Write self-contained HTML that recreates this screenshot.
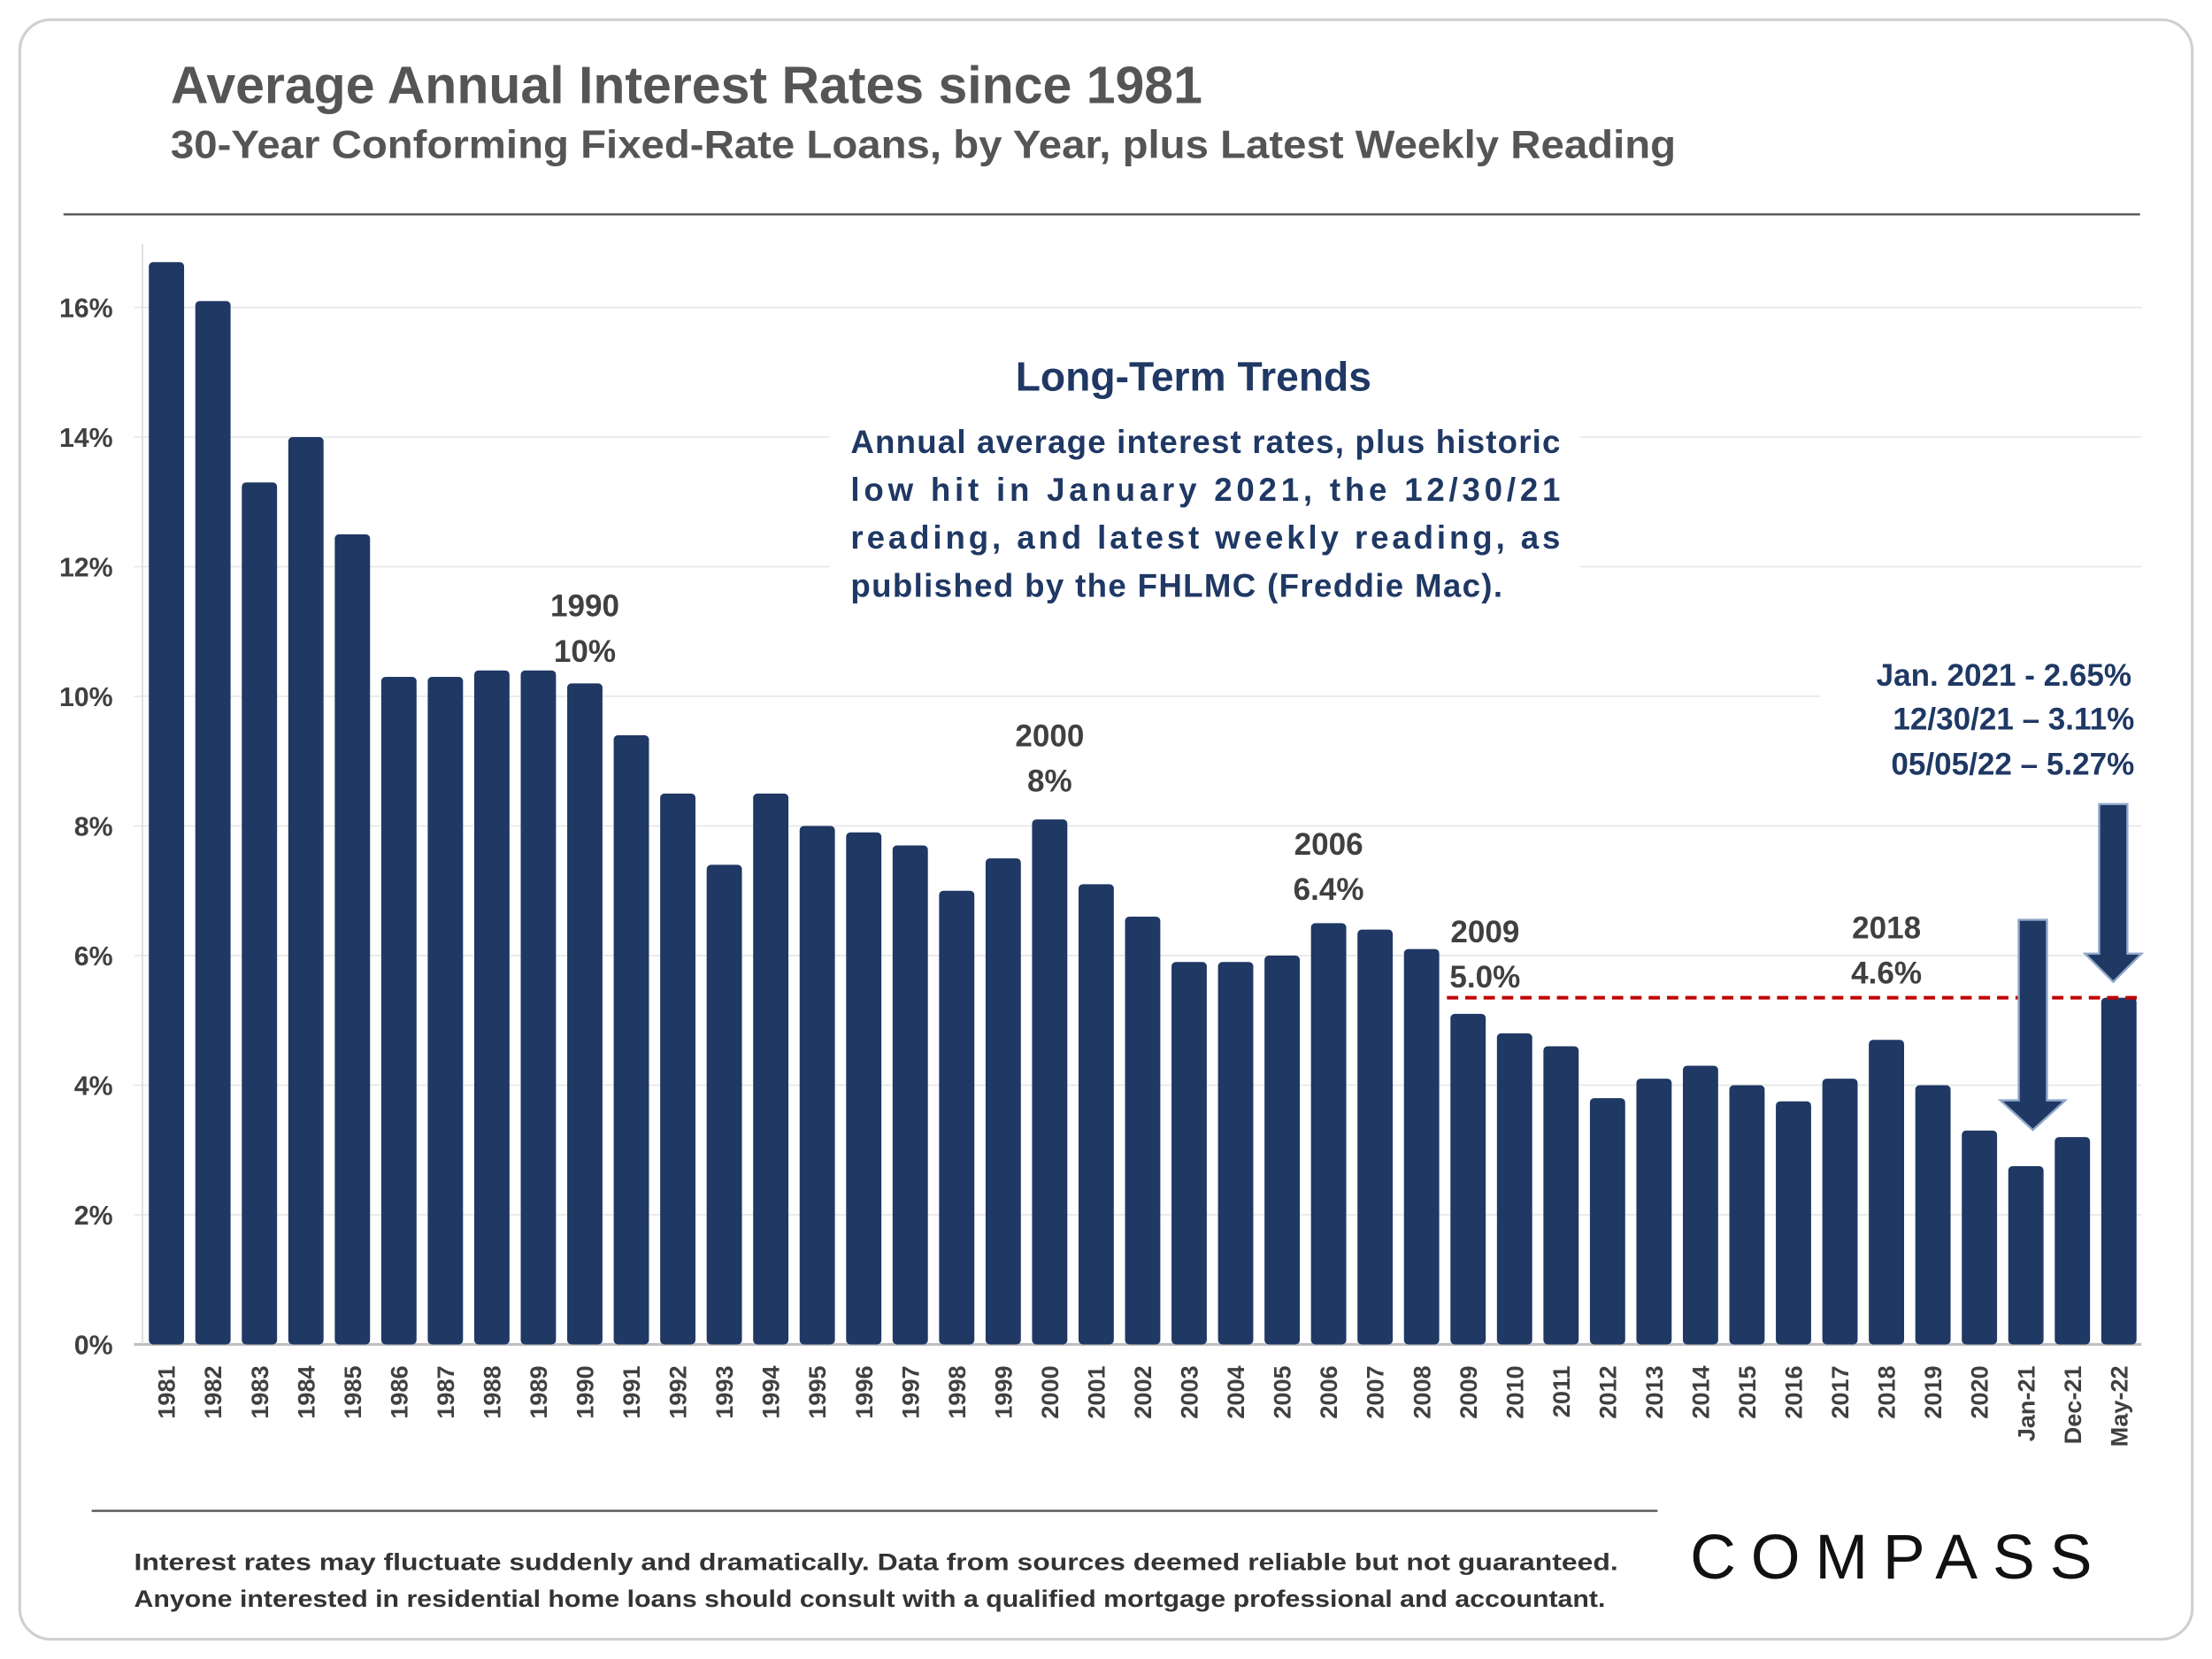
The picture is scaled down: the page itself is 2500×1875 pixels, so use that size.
<!DOCTYPE html>
<html><head><meta charset="utf-8"><style>
html,body{margin:0;padding:0;background:#fff}
svg{display:block}
text{font-family:"Liberation Sans",sans-serif;font-weight:bold}
</style></head><body>
<svg id="chart" width="2500" height="1875" viewBox="0 0 1568 1176" xmlns="http://www.w3.org/2000/svg">
<rect x="14" y="14" width="1540" height="1148" rx="22" fill="#fff" stroke="#d0d0d0" stroke-width="2"/>
<text x="121" y="73" font-size="37" fill="#555">Average Annual Interest Rates since 1981</text>
<text x="121" y="112" font-size="28" fill="#555" textLength="1067" lengthAdjust="spacingAndGlyphs">30-Year Conforming Fixed-Rate Loans, by Year, plus Latest Weekly Reading</text>
<line x1="45" y1="152" x2="1517" y2="152" stroke="#555" stroke-width="1.5"/>
<g id="grid"></g>
<g id="bars"></g>
<g id="xlabels"></g>
<g id="ylabels"></g>
<rect x="588" y="240" width="532" height="200" fill="#fff"/>
<text x="846" y="277" font-size="29" fill="#1f3864" text-anchor="middle">Long-Term Trends</text>
<g font-size="23" fill="#1f3864">
<text x="603" y="321" textLength="503">Annual average interest rates, plus historic</text>
<text x="603" y="355" textLength="503">low hit in January 2021, the 12/30/21</text>
<text x="603" y="389" textLength="503">reading, and latest weekly reading, as</text>
<text x="603" y="423" textLength="462">published by the FHLMC (Freddie Mac).</text>
</g>
<rect x="1290" y="460" width="240" height="100" fill="#fff"/>
<g font-size="22" fill="#1f3864" text-anchor="end">
<text x="1511" y="486">Jan. 2021 - 2.65%</text>
<text x="1513" y="517">12/30/21 – 3.11%</text>
<text x="1513" y="549">05/05/22 – 5.27%</text>
</g>
<g id="callouts" font-size="22" fill="#404040" text-anchor="middle"></g>
<line id="refline" stroke="#c00000" stroke-width="2.5" stroke-dasharray="8,5"/>
<path d="M1431,652 H1451 V780 H1464 L1441,801 L1418,780 H1431 Z" fill="#1f3864" stroke="#8fa6c8" stroke-width="1.5"/>
<path d="M1488,570 H1508 V676 H1518 L1498,696 L1478,676 H1488 Z" fill="#1f3864" stroke="#8fa6c8" stroke-width="1.5"/>
<line x1="65" y1="1071" x2="1175" y2="1071" stroke="#555" stroke-width="1.5"/>
<g font-size="17" fill="#333">
<text x="95" y="1113" textLength="1052" lengthAdjust="spacingAndGlyphs">Interest rates may fluctuate suddenly and dramatically. Data from sources deemed reliable but not guaranteed.</text>
<text x="95" y="1139" textLength="1043" lengthAdjust="spacingAndGlyphs">Anyone interested in residential home loans should consult with a qualified mortgage professional and accountant.</text>
</g>
<text x="1198" y="1119" font-size="45" style="font-weight:normal" fill="#111" textLength="285">COMPASS</text>
</svg>
<script>
const categories=["1981","1982","1983","1984","1985","1986","1987","1988","1989","1990","1991","1992","1993","1994","1995","1996","1997","1998","1999","2000","2001","2002","2003","2004","2005","2006","2007","2008","2009","2010","2011","2012","2013","2014","2015","2016","2017","2018","2019","2020","Jan-21","Dec-21","May-22"];
const rates=[16.7,16.1,13.3,14.0,12.5,10.3,10.3,10.4,10.4,10.2,9.4,8.5,7.4,8.5,8.0,7.9,7.7,7.0,7.5,8.1,7.1,6.6,5.9,5.9,6.0,6.5,6.4,6.1,5.1,4.8,4.6,3.8,4.1,4.3,4.0,3.75,4.1,4.7,4.0,3.3,2.75,3.2,5.35];
const yTicks=[0,2,4,6,8,10,12,14,16];
const calloutCats=["1990","2000","2006","2009","2018"];
const calloutYears=["1990","2000","2006","2009","2018"];
const calloutVals=["10%","8%","6.4%","5.0%","4.6%"];
const latestRate=5.35;

const NS="http://www.w3.org/2000/svg";
const y0=953,pxPer=45.94,xFirst=118,step=(1502-118)/42,bw=25;
const yScale=v=>y0-v*pxPer;
const xScale=i=>xFirst+i*step;
function mk(tag,attrs,parent){const e=document.createElementNS(NS,tag);for(const k in attrs)e.setAttribute(k,attrs[k]);parent.appendChild(e);return e;}
const grid=document.getElementById('grid'),bars=document.getElementById('bars'),xl=document.getElementById('xlabels'),yl=document.getElementById('ylabels');
yTicks.forEach(t=>{
  const l=mk('line',{x1:95,x2:1518,y1:yScale(t),y2:yScale(t),stroke:t===0?'#bfbfbf':'#e6e6e6','stroke-width':t===0?2:1},grid);
  
  
  const tx=mk('text',{x:80,y:yScale(t)+7,'font-size':19,fill:'#404040','text-anchor':'end'},yl);
  tx.textContent=t+'%';
  
  
});
mk('line',{x1:101,x2:101,y1:173,y2:953,stroke:'#d9d9d9','stroke-width':1},grid);
categories.forEach((c,i)=>{
  const x=xScale(i),v=rates[i];
  const r=mk('rect',{x:x-bw/2,y:yScale(v),width:bw,height:y0-yScale(v),rx:3,fill:'#1f3864'},bars);
  
  
  const t=mk('text',{x:0,y:0,'font-size':17,fill:'#404040','text-anchor':'end',transform:`translate(${x+6},968) rotate(-90)`},xl);
  t.textContent=c;
  
  
});
const co=document.getElementById('callouts');
const baseY={"1990":437,"2000":529,"2006":606,"2009":668,"2018":665};
calloutCats.forEach((c,i)=>{
  const idx=categories.indexOf(c),x=xScale(idx)+(c==="2009"?12:0);
  const base=baseY[c];
  const a=mk('text',{x:x,y:base},co);
  a.textContent=calloutYears[i];
  
  
  const b=mk('text',{x:x,y:base+32},co);
  b.textContent=calloutVals[i];
  
  
});
const rl=document.getElementById('refline');
rl.setAttribute('x1',xScale(28)-15);rl.setAttribute('x2',1515);
rl.setAttribute('y1',yScale(latestRate));rl.setAttribute('y2',yScale(latestRate));
</script>
</body></html>
